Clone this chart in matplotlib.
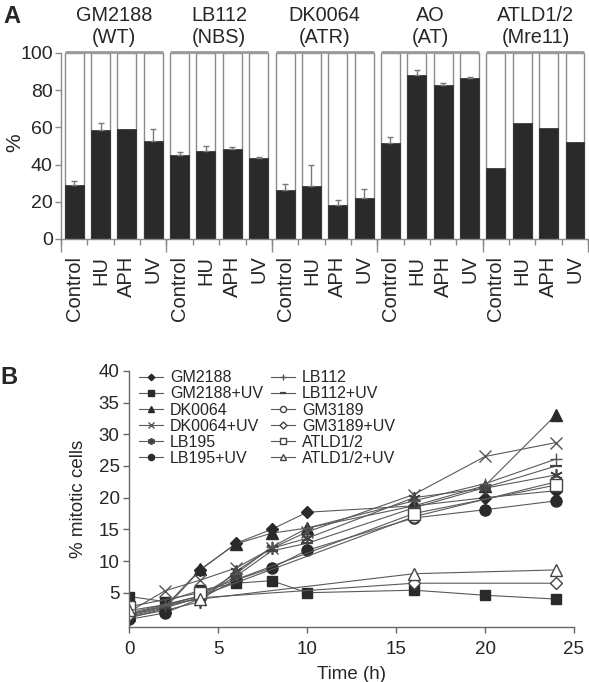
import numpy as np
import matplotlib
matplotlib.use('Agg')
import matplotlib.pyplot as plt

plt.rcParams['font.family'] = ['Liberation Sans', 'DejaVu Sans']

# ---- Panel A data ----
groups = ['GM2188\n(WT)', 'LB112\n(NBS)', 'DK0064\n(ATR)', 'AO\n(AT)', 'ATLD1/2\n(Mre11)']
treatments = ['Control', 'HU', 'APH', 'UV']
pct = [29.0, 58.6, 59.1, 52.5,
       45.0, 47.5, 48.5, 43.4,
       26.2, 28.7, 18.3, 22.2,
       51.4, 88.2, 82.8, 86.7,
       38.0, 62.2, 59.9, 52.0]
pct_err = [2.3, 3.6, 0.0, 6.5,
           2.0, 2.7, 1.2, 0.9,
           3.2, 11.1, 2.7, 4.8,
           3.6, 2.7, 1.0, 0.3,
           0.0, 0.0, 0.0, 0.0]

# ---- Panel B data ----
time = [0, 2, 4, 6, 8, 10, 16, 20, 24]
time_short = [0, 4, 16, 24]
gm2188 = [1.0, 2.5, 8.6, 12.8, 15.0, 17.7, 18.7, 20.0, 21.1]
gm2188_uv = [4.4, 3.6, 5.4, 6.5, 6.9, 5.0, 5.4, 4.6, 4.0]
dk0064 = [1.5, 2.8, 8.7, 12.7, 14.4, 15.2, 18.7, 21.9, 33.1]
dk0064_uv = [2.0, 5.3, 7.0, 8.9, 12.0, 14.6, 20.5, 26.5, 28.7]
lb195 = [1.2, 2.2, 3.6, 8.4, 12.0, 13.6, 20.0, 21.5, 23.6]
lb195_uv = [0.8, 1.8, 4.1, 7.0, 8.9, 11.7, 16.8, 18.1, 19.5]
lb112 = [1.6, 3.0, 4.5, 8.0, 12.2, 15.2, 19.5, 22.2, 26.1]
lb112_uv = [1.3, 2.6, 4.3, 7.6, 11.6, 12.8, 18.4, 21.6, 25.0]
gm3189 = [1.8, 4.5, 17.0, 22.5]
gm3189_uv = [1.5, 4.2, 6.5, 6.5]
atld = [2.8, 5.0, 17.5, 22.0]
atld_uv = [2.2, 4.0, 8.0, 8.6]

DARK = '#2a2a2a'
GRAY = '#8a8a8a'
TXT = '#262626'


def plot_panel_a(ax):
    n = len(pct)
    x = np.arange(n) + 0.5
    w = 0.72
    ax.bar(x, [100] * n, width=w, color='white', edgecolor=GRAY, linewidth=1.0, zorder=1)
    ax.bar(x, pct, width=w, color=DARK, edgecolor=DARK, linewidth=0.5, zorder=2)
    # upper error bars only
    for xi, v, e in zip(x, pct, pct_err):
        if e > 0:
            ax.errorbar(xi, v, yerr=[[0], [e]], fmt='none', ecolor='#7a7a7a',
                        elinewidth=1.0, capsize=2.5, capthick=1.0, zorder=3)

    ax.set_xlim(0, n)
    ax.set_ylim(0, 100)
    ax.set_yticks(range(0, 101, 20))
    ax.set_ylabel('%', fontsize=15, color=TXT, va='center')
    ax.yaxis.set_label_coords(-0.088, 0.52)

    ax.set_xticks(x)
    ax.set_xticklabels(treatments * len(groups), rotation=90, fontsize=14.5, color=TXT)
    ax.tick_params(axis='x', which='major', length=0, pad=12)
    ax.set_xticks(np.arange(n + 1), minor=True)
    ax.tick_params(axis='x', which='minor', length=4, color=GRAY, width=1)
    ax.tick_params(axis='y', length=4, color=GRAY, width=1, labelsize=14, labelcolor=TXT, pad=2)

    sec = ax.secondary_xaxis('bottom')
    sec.set_xticks(np.arange(0, n + 1, 4))
    sec.set_xticklabels([])
    sec.tick_params(length=9, color=GRAY, width=1)
    sec.spines['bottom'].set_visible(False)

    for s in ['top', 'right']:
        ax.spines[s].set_visible(False)
    for s in ['left', 'bottom']:
        ax.spines[s].set_color(GRAY)
        ax.spines[s].set_linewidth(1.0)

    # group brackets and names
    for g, name in enumerate(groups):
        x0 = g * 4 + 0.5 - w / 2
        x1 = g * 4 + 3.5 + w / 2
        ax.plot([x0, x1], [100.8, 100.8], color='#9a9a9a', lw=2, clip_on=False,
                solid_capstyle='butt')
        ax.text(g * 4 + 2, 114, name, ha='center', va='center', fontsize=14.3,
                color=TXT, linespacing=1.2, clip_on=False)


def plot_panel_b(ax):
    line_kw = dict(color='#5a5a5a', lw=0.8)
    series = [
        ('GM2188', time, gm2188, dict(marker='D', ms=6, mfc=DARK, mec=DARK)),
        ('GM2188+UV', time, gm2188_uv, dict(marker='s', ms=7.5, mfc=DARK, mec=DARK)),
        ('DK0064', time, dk0064, dict(marker='^', ms=8, mfc=DARK, mec=DARK)),
        ('DK0064+UV', time, dk0064_uv, dict(marker='x', ms=9, mec='#555555', mew=1.0)),
        ('LB195', time, lb195, dict(marker=(6, 2, 0), ms=9, mec='#444444', mew=1.2)),
        ('LB195+UV', time, lb195_uv, dict(marker='o', ms=8, mfc=DARK, mec=DARK)),
        ('LB112', time, lb112, dict(marker='+', ms=9, mec='#555555', mew=1.0)),
        ('LB112+UV', time, lb112_uv, dict(marker='_', ms=9, mec='#444444', mew=1.6)),
        ('GM3189', time_short, gm3189, dict(marker='o', ms=8, mfc='white', mec='#444444')),
        ('GM3189+UV', time_short, gm3189_uv, dict(marker='D', ms=6.5, mfc='white', mec='#444444')),
        ('ATLD1/2', time_short, atld, dict(marker='s', ms=8.5, mfc='white', mec='#444444')),
        ('ATLD1/2+UV', time_short, atld_uv, dict(marker='^', ms=9, mfc='white', mec='#444444')),
    ]
    for label, t, y, mk in series:
        ax.plot(t, y, label=label, **line_kw, **mk)

    ax.set_xlim(0, 25)
    ax.set_ylim(-0.36, 40)
    ax.set_xticks(range(0, 26, 5))
    ax.set_yticks(range(5, 41, 5))
    ax.tick_params(length=4, color='#666666', width=1, labelsize=13.5, labelcolor=TXT)
    ax.tick_params(axis='x', pad=6)
    ax.tick_params(axis='y', pad=3)
    for s in ['top', 'right']:
        ax.spines[s].set_visible(False)
    for s in ['left', 'bottom']:
        ax.spines[s].set_color('#666666')
        ax.spines[s].set_linewidth(1.0)
    ax.set_xlabel('Time (h)', fontsize=13.5, color=TXT, labelpad=6)
    ax.set_ylabel('% mitotic cells', fontsize=13.5, color=TXT, labelpad=8)

    leg = ax.legend(ncol=2, loc='upper left', bbox_to_anchor=(0.0, 1.04), frameon=False,
                    fontsize=11.5, labelspacing=0.07, handlelength=1.5,
                    handletextpad=0.45, columnspacing=0.5, markerscale=0.55,
                    borderaxespad=0.2)
    for t in leg.get_texts():
        t.set_color(TXT)


def main():
    fig = plt.figure(figsize=(5.89, 6.82), dpi=100)
    ax_a = fig.add_axes([0.1036, 0.6496, 0.895, 0.2727])
    ax_b = fig.add_axes([0.2195, 0.0811, 0.755, 0.375])
    plot_panel_a(ax_a)
    plot_panel_b(ax_b)
    fig.text(0.0195, 0.976, 'A', fontsize=17, fontweight='bold', ha='center', va='center', color=TXT)
    fig.text(0.0145, 0.446, 'B', fontsize=17, fontweight='bold', ha='center', va='center', color=TXT)
    fig.savefig('out.png', dpi=100)


if __name__ == "__main__":
    main()
